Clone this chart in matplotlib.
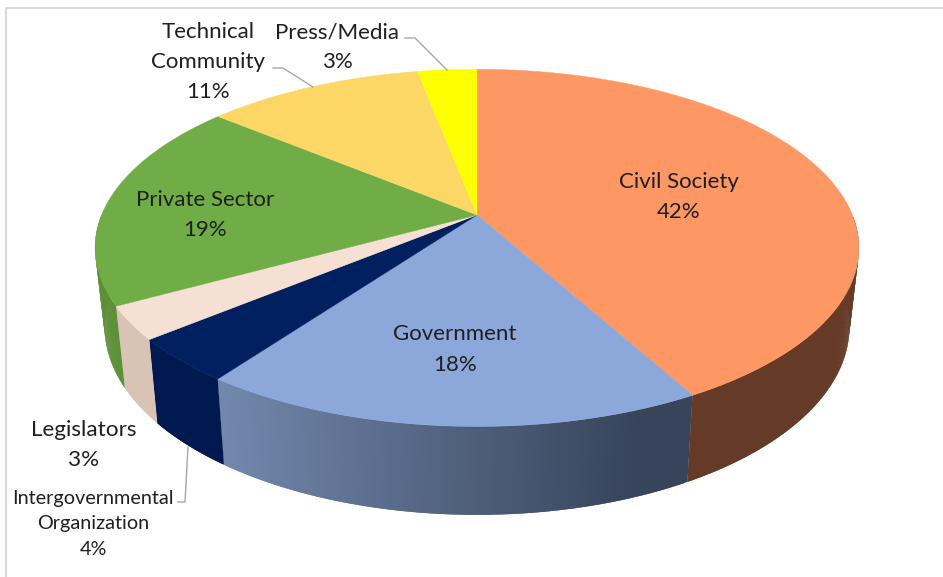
import matplotlib
matplotlib.use("Agg")
import matplotlib.pyplot as plt
from matplotlib.colors import to_rgb
import numpy as np

plt.rcParams['font.family'] = ['Lato', 'DejaVu Sans']

categories = ['Civil Society', 'Government', 'Intergovernmental\nOrganization', 'Legislators',
              'Private Sector', 'Technical\nCommunity', 'Press/Media']
shares = [42, 18, 4, 3, 19, 11, 3]
top_colors = ['#FD9865', '#8CA8DA', '#002060', '#F5E0D3', '#70AD47', '#FCD766', '#FFFF00']
wall_colors = ['#653A26', None, '#001A50', '#D9C3B5', '#5C9038', '#C9A94F', '#CCCC00']

# government wall fades from left to right
wall_fade = ['#7288AE', '#37445A']
fade_stop = 640

label_spots = [(679, 181.5), (455, 334.5), (93, 498.5), (84, 430.5), (205, 199.5), (208, 32.5), (337, 32.5)]
label_sizes = [16, 16, 14.3, 16.2, 16, 16, 16]
line_gaps = [30.5, 30.5, 25.5, 30, 30, 30, 30]

leaders = [
    ([405, 415, 447], [38, 38, 70]),
    ([273, 283, 313], [68, 68, 87]),
    ([178, 185, 188], [502, 502, 447]),
]


# perspective projection of the unit disc, upper and lower face
def project_top(X, Y):
    w = 1 - 0.184 * Y
    return 477 + 375.4 * X / w, (133 * Y + 215) / w


def project_bottom(X, Y):
    w = 1 - 0.185 * Y
    return 477 + 366 * X / w, (127.6 * Y + 292) / w


def rim(start, stop, n):
    t = np.radians(np.linspace(start, stop, n))
    return np.sin(t), -np.cos(t)


fig = plt.figure(figsize=(9.43, 5.77), dpi=100)
ax = fig.add_axes([0, 0, 1, 1])
ax.set_xlim(0, 943)
ax.set_ylim(577, 0)
ax.axis('off')

# thin frame
ax.plot([6, 6, 943], [577, 8, 8], color='#DADADA', lw=1.5, zorder=1)

edges = np.concatenate([[0], np.cumsum(shares)]) * 360 / sum(shares)

# side walls first, only the front half of the rim can be seen
c0, c1 = np.array(to_rgb(wall_fade[0])), np.array(to_rgb(wall_fade[1]))
for i in range(len(shares)):
    X, Y = rim(edges[i], edges[i + 1], max(8, shares[i] * 10))
    ux, uy = project_top(X, Y)
    lx, ly = project_bottom(X, Y)
    x_min = ux.min()
    # overlapping strips, so the next strip paints over any seam
    for k in range(len(X) - 1):
        if Y[k] < 0 and Y[k + 1] < 0:
            continue
        k2 = min(k + 2, len(X) - 1)
        if wall_colors[i] is None:
            f = np.clip((ux[k] - x_min) / (fade_stop - x_min), 0, 1)
            col = c0 + (c1 - c0) * f
        else:
            col = wall_colors[i]
        ax.fill([ux[k], ux[k2], lx[k2], lx[k]], [uy[k], uy[k2], ly[k2], ly[k]],
                color=col, lw=0, zorder=2)

cx, cy = project_top(0.0, 0.0)
for i in range(len(shares)):
    X, Y = rim(edges[i], edges[i + 1], 200)
    ux, uy = project_top(X, Y)
    ax.fill(np.r_[cx, ux], np.r_[cy, uy], color=top_colors[i], lw=0.3, zorder=3)

for xs, ys in leaders:
    ax.plot(xs, ys, color='#A6A6A6', lw=1.0, zorder=4)

for name, value, (x, y), size, gap in zip(categories, shares, label_spots, label_sizes, line_gaps):
    lines = name.split('\n') + [f'{value}%']
    for j, line in enumerate(lines):
        ax.text(x, y + j * gap, line, ha='center', va='center', fontsize=size, color='#1F1F1F', zorder=5)

plt.savefig('out.png', dpi=100, facecolor='white')
plt.close()
